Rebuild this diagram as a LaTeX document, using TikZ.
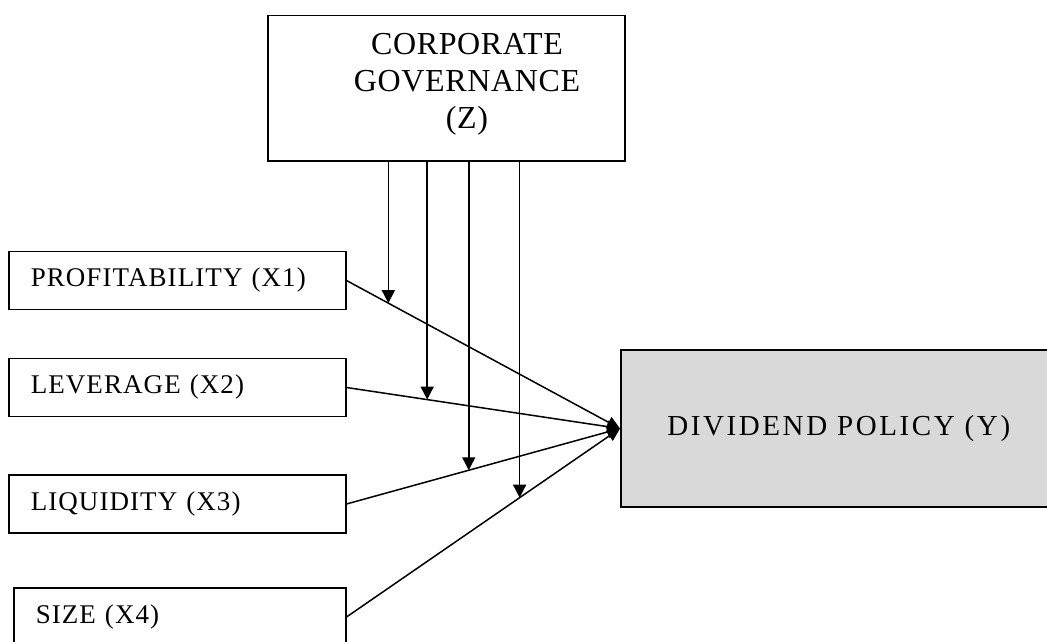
\documentclass[tikz,border=0pt]{standalone}
\usepackage{fontspec}
\setmainfont{Liberation Serif}
\newfontfamily\boxfont[LetterSpace=4]{Liberation Serif}
\newfontfamily\govfont[LetterSpace=2]{Liberation Serif}
\newfontfamily\depfont[LetterSpace=9]{Liberation Serif}
\usetikzlibrary{arrows.meta,calc}
\definecolor{depgray}{RGB}{217,217,217}
\begin{document}
\begin{tikzpicture}[x=1pt,y=-1pt,line width=1.5pt,
  varbox/.style={draw, rectangle, minimum height=58pt, inner xsep=22pt, inner ysep=0pt,
    align=left, font=\boxfont\fontsize{27}{32}\selectfont, anchor=west},
  link/.style={-{Triangle[width=12pt,length=13pt]}},
  modarrow/.style={-{Triangle[width=13pt,length=13pt]}}]
\useasboundingbox (0,0) rectangle (1047,642);
% moderator box
\node[draw, minimum width=357pt, minimum height=145pt, anchor=north west] (z) at (267,15) {};
\node[font=\govfont\fontsize{32}{37}\selectfont, align=center] (zt) at (467,84) {CORPORATE\\GOVERNANCE\\(Z)};
% independent variables
\node[varbox, text width=293pt] (x1) at (8,280.5) {PROFITABILITY (X1)};
\node[varbox, text width=293pt] (x2) at (8,387.5) {LEVERAGE (X2)};
\node[varbox, text width=293pt] (x3) at (8,504) {LIQUIDITY (X3)};
\node[varbox, text width=288pt] (x4) at (13,617) {SIZE (X4)};
% dependent variable
\node[draw, fill=depgray, minimum width=436pt, minimum height=157pt, anchor=west,
  font=\depfont\fontsize{29}{34}\selectfont] (y) at (620,428.5) {DIVIDEND POLICY (Y)};
% connectors
\draw[link] (x1.east) -- coordinate[pos=0.153] (t1) (y.west);
\draw[link] (x2.east) -- coordinate[pos=0.295] (t2) (y.west);
\draw[link] (x3.east) -- coordinate[pos=0.447] (t3) (y.west);
\draw[link] (x4.east) -- coordinate[pos=0.633] (t4) (y.west);
% moderating arrows
\draw[modarrow] (z.south -| t1) -- (t1);
\draw[modarrow] (z.south -| t2) -- (t2);
\draw[modarrow] (z.south -| t3) -- (t3);
\draw[modarrow] (z.south -| t4) -- (t4);
\end{tikzpicture}
\end{document}
